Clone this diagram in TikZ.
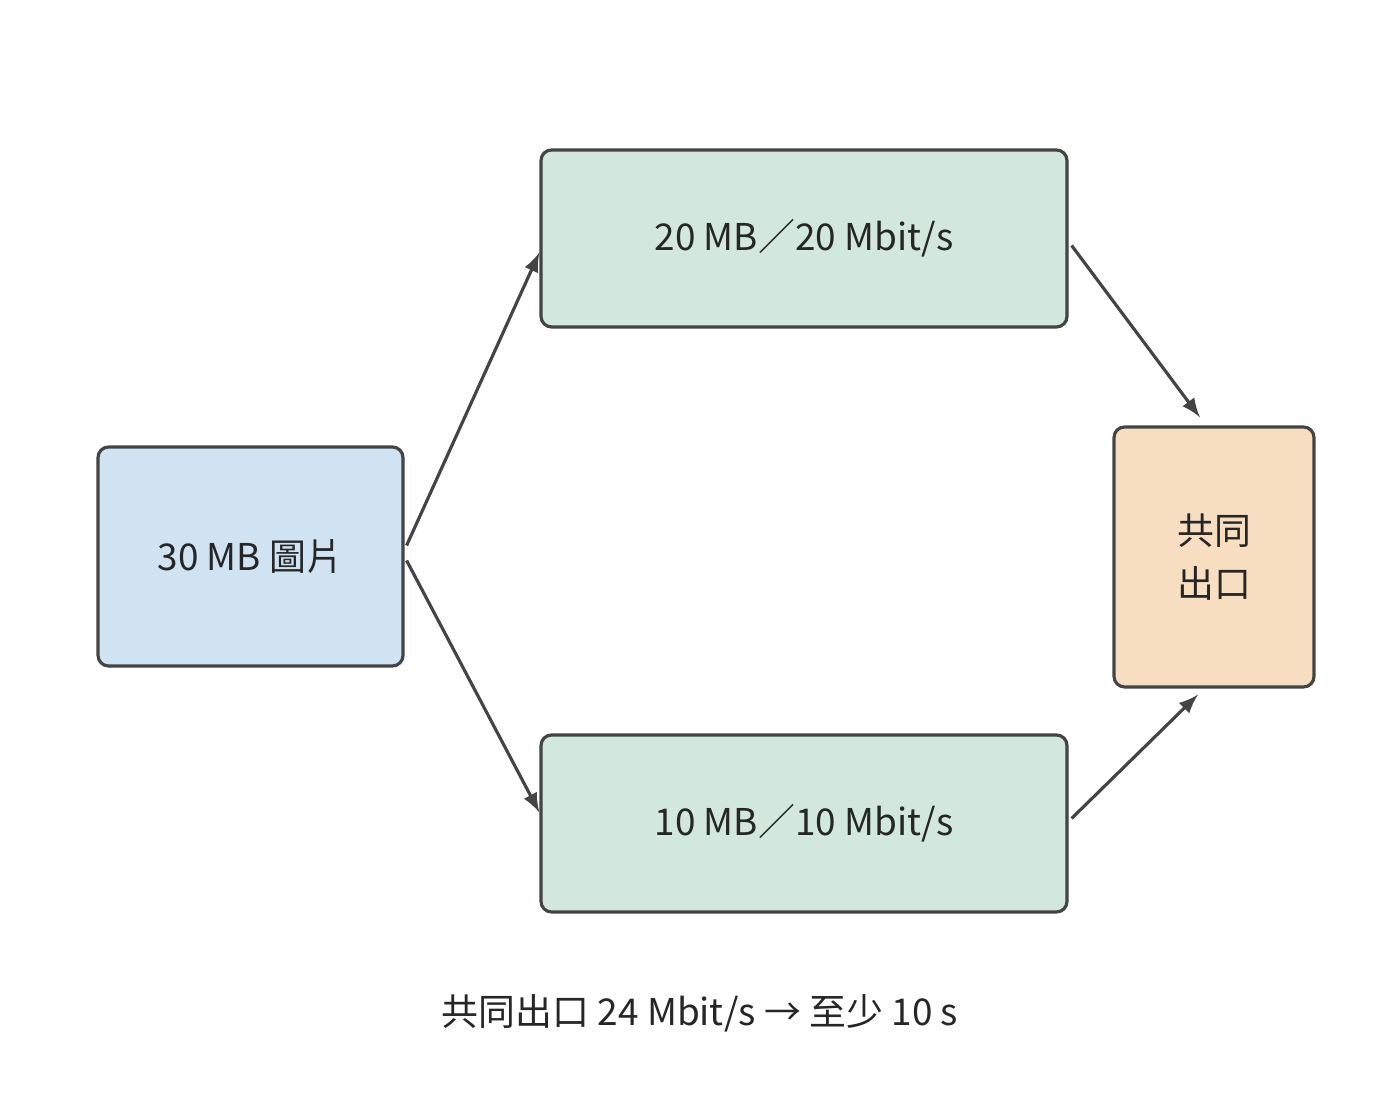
\documentclass[tikz,border=0pt]{standalone}
\usepackage{fontspec}
\setmainfont{Noto Sans CJK TC}
\usetikzlibrary{calc}
\definecolor{edgegray}{HTML}{444444}
\definecolor{srcblue}{HTML}{CFE3F2}
\definecolor{pathgreen}{HTML}{D2E8DC}
\definecolor{outorange}{HTML}{F8DEC0}
\tikzset{
  box/.style={draw=edgegray, line width=0.9pt, rounded corners=3pt, align=center,
    font=\fontsize{10.5pt}{15pt}\selectfont, text=black!85},
  link/.style={draw=edgegray, line width=0.9pt, -latex}
}
\begin{document}
\begin{tikzpicture}

    \useasboundingbox (0,0) rectangle (14,11.04);

    \node[box, fill=srcblue, minimum width=3.05cm, minimum height=2.19cm] (src) at (2.505,5.475) {30 MB 圖片};
    \node[box, fill=pathgreen, minimum width=5.26cm, minimum height=1.77cm] (up) at (8.04,8.655) {20 MB／20 Mbit/s};
    \node[box, fill=pathgreen, minimum width=5.26cm, minimum height=1.77cm] (down) at (8.04,2.805) {10 MB／10 Mbit/s};
    \node[box, fill=outorange, minimum width=2.0cm, minimum height=2.6cm] (out) at (12.14,5.47) {共同\\出口};
    \node[font=\fontsize{10.5pt}{15pt}\selectfont, text=black!85] (note) at (7,0.91) {共同出口 24 Mbit/s → 至少 10 s};

    \draw[link] ($(src.east)+(0.02,0.11)$) -- ($(up.west)+(0,-0.14)$);
    \draw[link] ($(src.east)+(0.02,-0.04)$) -- ($(down.west)+(0,0.11)$);
    \draw[link] ($(up.east)+(0.03,-0.07)$) -- ($(out.north)+(-0.14,0.08)$);
    \draw[link] ($(down.east)+(0.03,0.05)$) -- ($(out.south)+(-0.16,-0.06)$);

\end{tikzpicture}
\end{document}
